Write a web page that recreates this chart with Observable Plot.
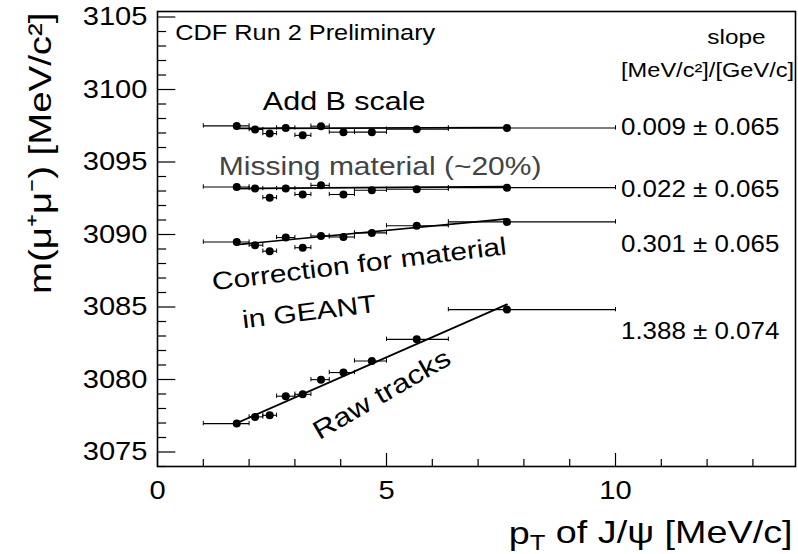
<!DOCTYPE html>
<html><head><meta charset="utf-8">
<script src="https://cdn.jsdelivr.net/npm/d3@7"></script>
<script src="https://cdn.jsdelivr.net/npm/@observablehq/plot@0.6"></script>
<style>body{margin:0;background:#fff}</style>
</head><body><div id="chart"></div>
<script>
// ---- data ----
const ptMean = [1.73, 2.13, 2.45, 2.80, 3.17, 3.57, 4.06, 4.68, 5.66, 7.63];
const binEdges = [1.0, 2.0, 2.3, 2.6, 3.0, 3.35, 3.75, 4.3, 5.0, 6.35, 10.0];
const massAddB    = [3097.49, 3097.24, 3096.96, 3097.35, 3096.84, 3097.47, 3097.06, 3097.06, 3097.26, 3097.35];
const massMissing = [3093.28, 3093.17, 3092.54, 3093.17, 3092.76, 3093.39, 3092.76, 3093.05, 3093.12, 3093.23];
const massGeant   = [3089.48, 3089.26, 3088.85, 3089.79, 3089.09, 3089.90, 3089.83, 3090.11, 3090.60, 3090.87];
const massRaw     = [3076.96, 3077.42, 3077.53, 3078.85, 3078.98, 3079.99, 3080.48, 3081.28, 3082.77, 3084.82];
const fitSlope     = [0.009, 0.022, 0.301, 1.388];
const fitSlopeErr  = [0.065, 0.065, 0.065, 0.074];
const fitIntercept = [3097.30, 3093.13, 3088.78, 3074.59];
const yTicks = [3075, 3080, 3085, 3090, 3095, 3100, 3105];
const xTicks = [0, 5, 10];
const noteText = ["CDF Run 2 Preliminary", "Add B scale", "Missing material (~20%)", "Correction for material", "in GEANT", "Raw tracks"];
const notePt   = [0.39, 2.30, 1.34, 1.21, 1.87, 3.53];
const noteMass = [3103.39, 3098.57, 3094.08, 3086.15, 3083.53, 3075.81];
const slopeLabelPt = 10.12;
const slopeLabelMass = [3096.84, 3092.59, 3088.79, 3082.82];
const slopeHeader = ["slope", "[MeV/c²]/[GeV/c]"];
const slopeHeaderPt = [12.64, 12.01];
const slopeHeaderMass = [3103.12, 3100.84];
const yLabel = "m(μ⁺μ⁻) [MeV/c²]";
const xLabel = "pT of J/ψ [MeV/c]";

// ---- tables ----
const masses = [massAddB, massMissing, massGeant, massRaw];
const rows = [];
masses.forEach((m, s) => m.forEach((v, i) => rows.push({series: s, pt: ptMean[i], mass: v, lo: binEdges[i], hi: binEdges[i + 1]})));
const fits = [];
fitSlope.forEach((b, s) => [ptMean[0], ptMean[ptMean.length - 1]].forEach(x => fits.push({series: s, pt: x, mass: fitIntercept[s] + b * x})));
const slopeText = fitSlope.map((b, i) => `${b.toFixed(3)} ± ${fitSlopeErr[i].toFixed(3)}`);
const yMinor = d3.range(3074, 3106).filter(v => v % 5 !== 0);
const xMinor = d3.range(1, 14).filter(v => v % 5 !== 0);
const yDom = [3074, 3105.38], xDom = [0, 13.93];

const note = (i, o) => Plot.text([i], {x: d => notePt[d], y: d => noteMass[d], text: d => noteText[d], textAnchor: "start", lineAnchor: "bottom", fill: "black", ...o});

const plot = Plot.plot({
  width: 798, height: 554,
  marginLeft: 157, marginRight: 3, marginTop: 11, marginBottom: 88,
  x: {domain: xDom},
  y: {domain: yDom},
  style: {fontFamily: "'Liberation Sans', Arial, Helvetica, sans-serif", background: "white", color: "black"},
  marks: [
    // axis ticks (inside)
    Plot.ruleY(yMinor, {x1: xDom[0], x2: xDom[0] + 0.2, stroke: "black", strokeWidth: 1.2}),
    Plot.ruleY(yTicks, {x1: xDom[0], x2: xDom[0] + 0.4, stroke: "black", strokeWidth: 1.2}),
    Plot.ruleX(xMinor, {y1: yDom[0], y2: yDom[0] + 0.48, stroke: "black", strokeWidth: 1.2}),
    Plot.ruleX(xTicks, {y1: yDom[0], y2: yDom[0] + 0.9, stroke: "black", strokeWidth: 1.2}),
    Plot.axisY({ticks: yTicks, tickSize: 0, tickPadding: 10, fontSize: 26, tickFormat: d => String(d), label: null}),
    Plot.axisX({ticks: xTicks, tickSize: 0, tickPadding: 14, fontSize: 26, tickFormat: d => String(d), label: null}),
    // error bars
    Plot.link(rows, {x1: "lo", x2: "hi", y1: "mass", y2: "mass", stroke: "black", strokeWidth: 1.1}),
    Plot.ruleX(rows, {x: "lo", y1: d => d.mass - 0.15, y2: d => d.mass + 0.15, stroke: "black", strokeWidth: 1}),
    Plot.ruleX(rows, {x: "hi", y1: d => d.mass - 0.15, y2: d => d.mass + 0.15, stroke: "black", strokeWidth: 1}),
    // fits
    Plot.line(fits, {x: "pt", y: "mass", z: "series", stroke: "black", strokeWidth: 1.7}),
    // points
    Plot.dot(rows, {x: "pt", y: "mass", r: 4, fill: "black", stroke: "none"}),
    // annotations
    note(0, {fontSize: 22}),
    note(1, {fontSize: 25}),
    note(2, {fontSize: 25, fill: "#444"}),
    note(3, {fontSize: 25, rotate: -7}),
    note(4, {fontSize: 25, rotate: -7}),
    note(5, {fontSize: 26, rotate: -30}),
    Plot.text(slopeText, {x: slopeLabelPt, y: (d, i) => slopeLabelMass[i], textAnchor: "start", lineAnchor: "bottom", fontSize: 24, fill: "black"}),
    Plot.text([0], {x: () => slopeHeaderPt[0], y: () => slopeHeaderMass[0], text: () => slopeHeader[0], textAnchor: "middle", lineAnchor: "bottom", fontSize: 21, fill: "black"}),
    Plot.text([1], {x: () => slopeHeaderPt[1], y: () => slopeHeaderMass[1], text: () => slopeHeader[1], textAnchor: "middle", lineAnchor: "bottom", fontSize: 20, fill: "black"}),
    Plot.text([yLabel], {frameAnchor: "top-left", dx: -107, dy: 1, rotate: -90, textAnchor: "end", lineAnchor: "bottom", fontSize: 32, fill: "black"}),
    Plot.text([xLabel], {frameAnchor: "bottom-right", dx: -3, dy: 77, textAnchor: "end", lineAnchor: "bottom", fontSize: 32, fill: "black"}),
    Plot.frame({stroke: "black", strokeWidth: 1.6})
  ]
});
document.getElementById("chart").appendChild(plot);

// horizontal stretch of glyphs to mimic the original's wide lettering
const stretch = new Map([
  ["CDF Run 2 Preliminary", 1.15], ["Add B scale", 1.22], ["Missing material (~20%)", 1.2],
  ["Correction for material", 1.2], ["in GEANT", 1.2], ["Raw tracks", 1.2],
  ["slope", 1.16], [slopeHeader[1], 1.18], [yLabel, 1.2], [xLabel, 1.18]
]);
yTicks.forEach(t => stretch.set(String(t), 1.12));
xTicks.forEach(t => stretch.set(String(t), 1.12));
slopeText.forEach(t => stretch.set(t, 1.08));
d3.select(plot).selectAll("text").each(function () {
  const f = stretch.get(this.textContent);
  if (!f) return;
  const t = this.getAttribute("transform");
  if (t) this.setAttribute("transform", t + ` scale(${f},1)`);
  else {
    const x = +this.getAttribute("x") || 0;
    this.removeAttribute("x");
    this.setAttribute("transform", `translate(${x},0) scale(${f},1)`);
  }
});
// subscript T in the x title
d3.select(plot).selectAll("text").filter(function () { return this.textContent === xLabel; }).each(function () {
  const s = d3.select(this);
  s.text(null);
  s.append("tspan").text("p");
  s.append("tspan").attr("font-size", "0.68em").attr("dy", "0.28em").text("T");
  s.append("tspan").attr("dy", "-0.2em").text(" of J/ψ [MeV/c]");
});
</script>
</body></html>
